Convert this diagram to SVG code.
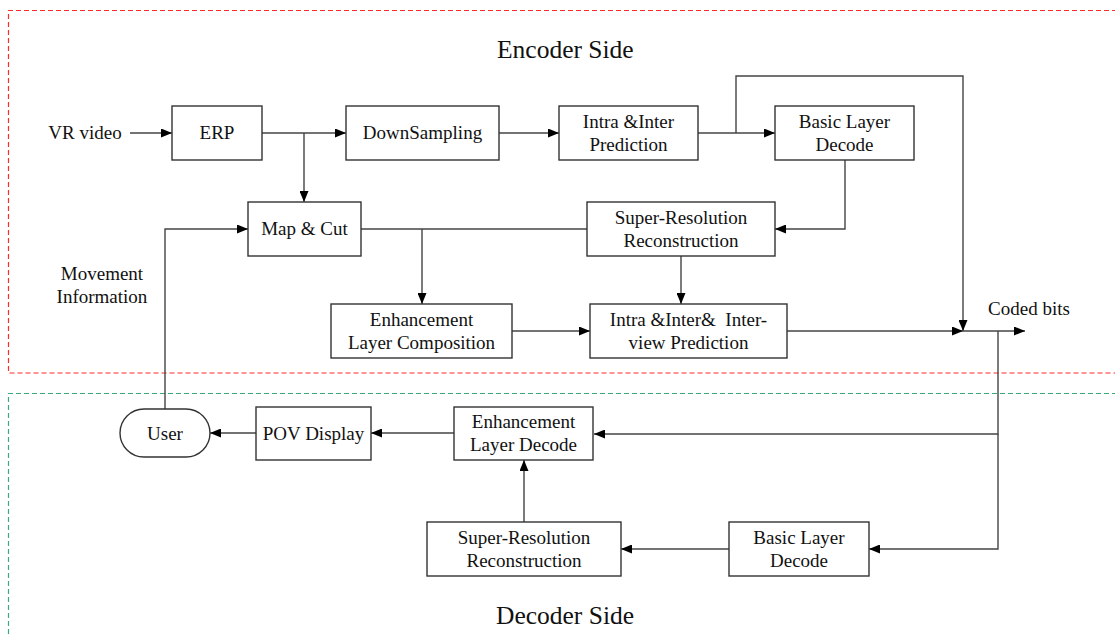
<svg xmlns="http://www.w3.org/2000/svg" width="1115" height="635" viewBox="0 0 1115 635">
<defs>
<marker id="ah" markerWidth="11" markerHeight="9" refX="11" refY="4.5" orient="auto" markerUnits="userSpaceOnUse">
<path d="M0,0 L11,4.5 L0,9 Z" fill="#000"/>
</marker>
<style>
.box{fill:#fff;stroke:#333;stroke-width:1.4}
.t{font-family:"Liberation Serif","Times New Roman",serif;font-size:19px;fill:#111;text-anchor:middle}
.title{font-family:"Liberation Serif","Times New Roman",serif;font-size:25.5px;fill:#111}
.c{fill:none;stroke:#444;stroke-width:1.4}
.ca{fill:none;stroke:#444;stroke-width:1.4;marker-end:url(#ah)}
</style>
</defs>
<rect width="1115" height="635" fill="#fff"/>
<g id="regions">
<path d="M1125,10.5 H8.5 V373 H1125" fill="none" stroke="#ff2a2a" stroke-width="1.2" stroke-dasharray="5,3"/>
<path d="M1125,393.5 H8.5 V640" fill="none" stroke="#3aaa7a" stroke-width="1.2" stroke-dasharray="5,3"/>
</g>
<g id="titles">
<text class="title" x="497" y="58">Encoder Side</text>
<text class="title" x="496" y="624">Decoder Side</text>
</g>
<g id="connectors">
<path class="ca" d="M130,133 H172"/>
<path class="ca" d="M262,133 H346"/>
<path class="ca" d="M304,133 V202"/>
<path class="ca" d="M499,133 H559"/>
<path class="ca" d="M698,133 H775"/>
<path class="ca" d="M736,133 V76 H963 V331"/>
<path class="ca" d="M845,160 V229 H775"/>
<path class="c" d="M361,229 H587"/>
<path class="ca" d="M422,229 V304"/>
<path class="ca" d="M681,256 V304"/>
<path class="ca" d="M512,331 H590"/>
<path class="ca" d="M787,331 H963"/>
<path class="ca" d="M963,331 H1025"/>
<path class="ca" d="M998,331 V434 H594"/>
<path class="ca" d="M998,434 V549 H869"/>
<path class="ca" d="M165,409 V229 H248"/>
<path class="ca" d="M454,433 H371"/>
<path class="ca" d="M256,433 H210"/>
<path class="ca" d="M524,522 V460"/>
<path class="ca" d="M729,549 H621"/>
</g>
<g id="labels">
<text class="t" x="85" y="139">VR video</text>
<text class="t" x="102" y="280">Movement</text>
<text class="t" x="102" y="303">Information</text>
<text class="t" x="1029" y="315">Coded bits</text>
</g>
<g id="erp"><rect class="box" x="172" y="106" width="90" height="54"/><text class="t" x="217" y="139">ERP</text></g>
<g id="downsampling"><rect class="box" x="346" y="106" width="153" height="54"/><text class="t" x="422.5" y="139">DownSampling</text></g>
<g id="intra-inter"><rect class="box" x="559" y="106" width="139" height="54"/><text class="t" x="628.5" y="128">Intra &amp;Inter</text><text class="t" x="628.5" y="151">Prediction</text></g>
<g id="basic-enc"><rect class="box" x="775" y="106" width="139" height="54"/><text class="t" x="844.5" y="128">Basic Layer</text><text class="t" x="844.5" y="151">Decode</text></g>
<g id="map-cut"><rect class="box" x="248" y="202" width="113" height="54"/><text class="t" x="304.5" y="235">Map &amp; Cut</text></g>
<g id="sr-enc"><rect class="box" x="587" y="202" width="188" height="54"/><text class="t" x="681" y="224">Super-Resolution</text><text class="t" x="681" y="247">Reconstruction</text></g>
<g id="elc"><rect class="box" x="331" y="304" width="181" height="54"/><text class="t" x="421.5" y="326">Enhancement</text><text class="t" x="421.5" y="349">Layer Composition</text></g>
<g id="iiv"><rect class="box" x="590" y="304" width="197" height="54"/><text class="t" x="688.5" y="326" xml:space="preserve">Intra &amp;Inter&amp;  Inter-</text><text class="t" x="688.5" y="349">view Prediction</text></g>
<g id="user"><rect class="box" x="120" y="409" width="90" height="48" rx="24" ry="24"/><text class="t" x="165" y="440">User</text></g>
<g id="pov"><rect class="box" x="256" y="407" width="115" height="53"/><text class="t" x="313.5" y="440">POV Display</text></g>
<g id="eld"><rect class="box" x="454" y="407" width="139" height="53"/><text class="t" x="523.5" y="428">Enhancement</text><text class="t" x="523.5" y="451">Layer Decode</text></g>
<g id="sr-dec"><rect class="box" x="427" y="522" width="194" height="54"/><text class="t" x="524" y="544">Super-Resolution</text><text class="t" x="524" y="567">Reconstruction</text></g>
<g id="basic-dec"><rect class="box" x="729" y="522" width="140" height="54"/><text class="t" x="799" y="544">Basic Layer</text><text class="t" x="799" y="567">Decode</text></g>
</svg>
